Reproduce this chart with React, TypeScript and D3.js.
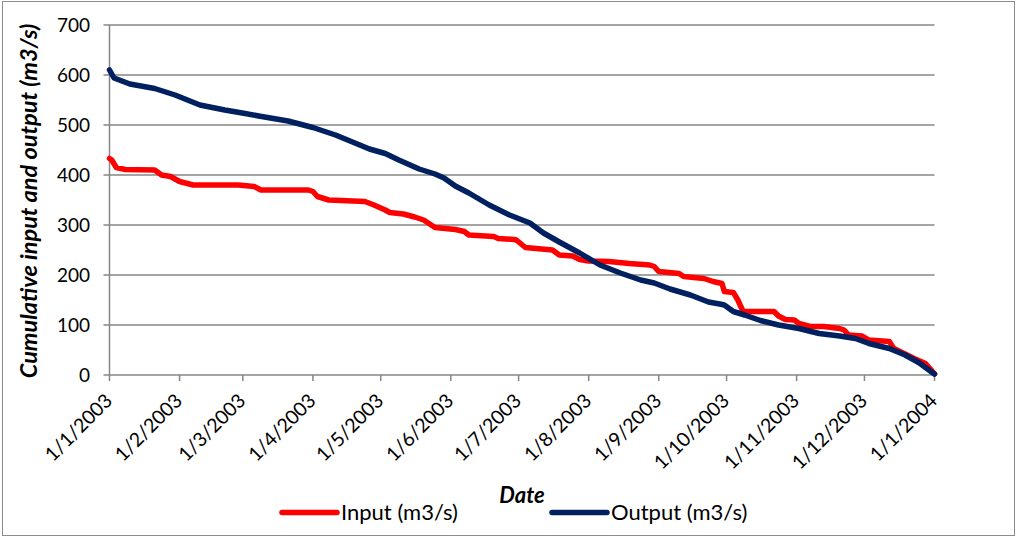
import React from "react";
import * as d3 from "d3";

const inputDates = [
  "2003-01-01","2003-01-02","2003-01-04","2003-01-08","2003-01-21","2003-01-24","2003-01-28",
  "2003-02-01","2003-02-07","2003-02-27","2003-03-06","2003-03-09","2003-03-30","2003-04-01",
  "2003-04-03","2003-04-08","2003-04-24","2003-04-28","2003-05-03","2003-05-05","2003-05-11",
  "2003-05-16","2003-05-20","2003-05-25","2003-06-03","2003-06-07","2003-06-09","2003-06-20",
  "2003-06-22","2003-06-29","2003-06-30","2003-07-04","2003-07-16","2003-07-19","2003-07-25",
  "2003-07-28","2003-08-01","2003-08-10","2003-08-19","2003-08-28","2003-08-30","2003-09-01",
  "2003-09-10","2003-09-12","2003-09-21","2003-09-25","2003-09-29","2003-09-30","2003-10-04",
  "2003-10-06","2003-10-08","2003-10-09","2003-10-22","2003-10-24","2003-10-27","2003-10-31",
  "2003-11-02","2003-11-07","2003-11-13","2003-11-20","2003-11-22","2003-11-24","2003-11-30",
  "2003-12-03","2003-12-12","2003-12-14","2003-12-19","2003-12-23","2003-12-28","2003-12-30",
  "2004-01-01",
];
const inputValues = [
  433, 430, 415, 411, 410, 400, 397,
  387, 380, 380, 377, 370, 370, 367,
  357, 350, 347, 340, 330, 325, 322,
  316, 310, 295, 291, 287, 280, 277,
  273, 271, 270, 255, 250, 240, 238,
  231, 228, 227, 223, 220, 217, 207,
  203, 197, 193, 187, 183, 167, 165,
  150, 130, 127, 127, 118, 111, 110,
  103, 97, 97, 93, 90, 80, 78,
  70, 67, 53, 42, 33, 23, 13,
  2,
];

const outputDates = [
  "2003-01-01","2003-01-03","2003-01-10","2003-01-21","2003-01-30","2003-02-10","2003-02-21",
  "2003-03-02","2003-03-08","2003-03-21","2003-04-01","2003-04-11","2003-04-26","2003-05-03",
  "2003-05-09","2003-05-18","2003-05-25","2003-05-29","2003-06-03","2003-06-09","2003-06-18",
  "2003-06-27","2003-07-06","2003-07-12","2003-07-19","2003-07-28","2003-08-06","2003-08-15",
  "2003-08-24","2003-08-30","2003-09-06","2003-09-15","2003-09-23","2003-09-28","2003-09-30",
  "2003-10-04","2003-10-09","2003-10-16","2003-10-24","2003-11-02","2003-11-11","2003-11-20",
  "2003-11-27","2003-12-03","2003-12-12","2003-12-19","2003-12-25","2003-12-31","2004-01-01",
];
const outputValues = [
  610, 594, 582, 573, 560, 540, 530,
  523, 518, 508, 495, 480, 452, 443,
  430, 412, 402, 394, 378, 364, 340,
  320, 304, 284, 266, 244, 220, 204,
  190, 184, 172, 160, 146, 142, 140,
  127, 120, 109, 100, 93, 83, 78,
  73, 63, 53, 40, 25, 5, 2,
];

const yTicks = [0, 100, 200, 300, 400, 500, 600, 700];
const xTickDates = [
  "2003-01-01","2003-02-01","2003-03-01","2003-04-01","2003-05-01","2003-06-01","2003-07-01",
  "2003-08-01","2003-09-01","2003-10-01","2003-11-01","2003-12-01","2004-01-01",
];

const seriesNames = ["Input (m3/s)", "Output (m3/s)"];
const seriesColors = ["#FF0000", "#002060"];

const FONT = "Lato, 'Open Sans', sans-serif";

export default function App() {
  const width = 1016;
  const height = 538;
  const left = 109.5;
  const right = 934.5;
  const top = 25;
  const bottom = 375;

  const parse = d3.utcParse("%Y-%m-%d");
  const x = d3
    .scaleUtc()
    .domain([parse("2003-01-01")!, parse("2004-01-01")!])
    .range([left, right]);
  const y = d3.scaleLinear().domain([0, 700]).range([bottom, top]);

  const line = d3
    .line<[Date, number]>()
    .x((d) => x(d[0]))
    .y((d) => y(d[1]))
    .curve(d3.curveLinear);

  const inputData: [Date, number][] = inputDates.map((d, i) => [parse(d)!, inputValues[i]]);
  const outputData: [Date, number][] = outputDates.map((d, i) => [parse(d)!, outputValues[i]]);
  const series = [inputData, outputData];

  const fmt = (s: string) => {
    const d = parse(s)!;
    return `${d.getUTCDate()}/${d.getUTCMonth() + 1}/${d.getUTCFullYear()}`;
  };

  const grid = "#868686";

  return (
    <svg
      width={width}
      height={height}
      style={{ position: "absolute", left: 0, top: 0, background: "#fff" }}
      fontFamily={FONT}
    >
      <rect x={2.5} y={1.5} width={1012} height={534} fill="#fff" stroke="#8c8c8c" strokeWidth={1} />
      {yTicks.map((t) => (
        <g key={"y" + t}>
          <line x1={left - 6} x2={right} y1={y(t)} y2={y(t)} stroke={grid} strokeWidth={1.5} />
          <text x={90} y={y(t)} dy="0.36em" textAnchor="end" fontSize={19} fill="#000">
            {t}
          </text>
        </g>
      ))}
      <line x1={left} x2={left} y1={top} y2={bottom} stroke={grid} strokeWidth={1.5} />
      {xTickDates.map((s) => {
        const xx = x(parse(s)!);
        return (
          <g key={s}>
            <line x1={xx} x2={xx} y1={bottom} y2={bottom + 6} stroke={grid} strokeWidth={1.5} />
            <text
              transform={`translate(${xx + 4},${402}) rotate(-45)`}
              textAnchor="end"
              fontSize={19.5}
              fill="#000"
            >
              {fmt(s)}
            </text>
          </g>
        );
      })}
      {series.map((data, i) => (
        <path
          key={"s" + i}
          d={line(data) || ""}
          fill="none"
          stroke={seriesColors[i]}
          strokeWidth={5.5}
          strokeLinejoin="round"
          strokeLinecap="round"
        />
      ))}
      <text
        transform={`translate(37,201) rotate(-90)`}
        textAnchor="middle"
        fontSize={23.5}
        fontWeight="bold"
        fontStyle="italic"
        fill="#000"
      >
        Cumulative input and output (m3/s)
      </text>
      <text x={522} y={503} textAnchor="middle" fontSize={22} fontWeight="bold" fontStyle="italic" fill="#000">
        Date
      </text>
      {[282, 552].map((lx, i) => (
        <g key={"l" + i}>
          <line x1={lx} x2={lx + 55} y1={512.5} y2={512.5} stroke={seriesColors[i]} strokeWidth={5.5} strokeLinecap="round" />
          <text x={lx + 59} y={520} fontSize={22} fill="#000">
            {seriesNames[i]}
          </text>
        </g>
      ))}
    </svg>
  );
}
